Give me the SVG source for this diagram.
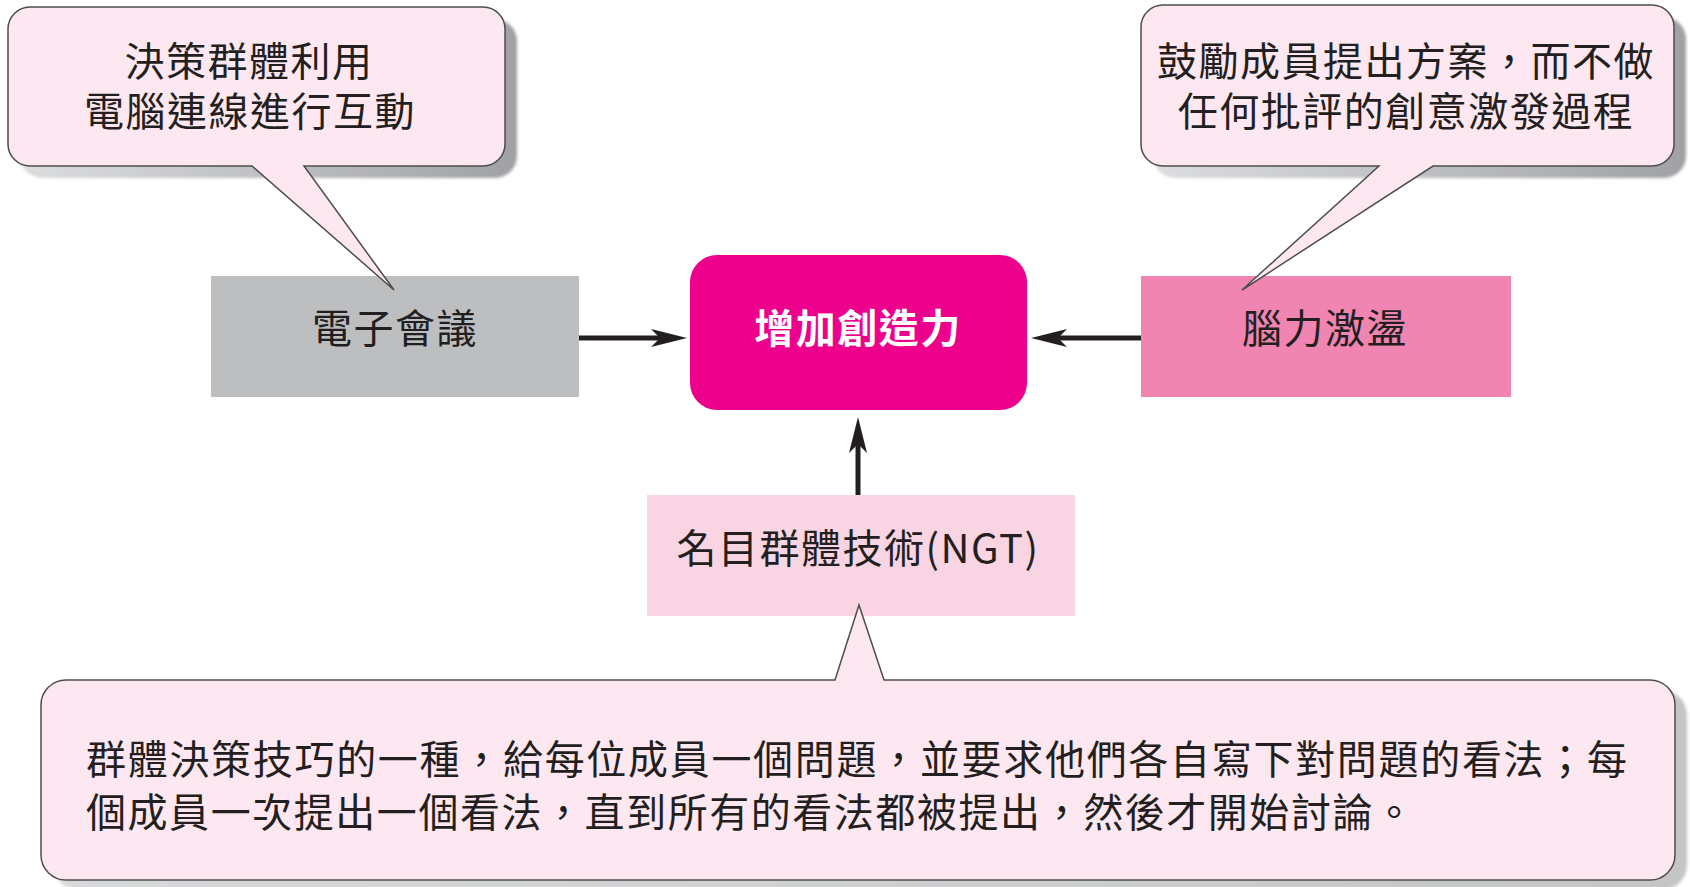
<svg xmlns="http://www.w3.org/2000/svg" width="1690" height="887" viewBox="0 0 1690 887">
<style>
  .txt { font-family: "Noto Sans CJK TC", "Noto Sans CJK SC", sans-serif; fill: #231f20; font-size: 40px; letter-spacing: 1.5px; }
  .title { font-family: "Noto Sans CJK TC", "Noto Sans CJK SC", sans-serif; fill: #ffffff; font-size: 40px; font-weight: bold; letter-spacing: 1.5px; }
  .body { letter-spacing: 0px; }
  .bubble { fill: #fde7f0; stroke: #4d4d4d; stroke-width: 1.5; stroke-linejoin: miter; }
  .shadow { filter: url(#blur); }
  .conn { stroke: #231f20; stroke-width: 5; fill: none; marker-end: url(#arrow); }
</style>
<defs>
  <filter id="blur" x="-5%" y="-10%" width="110%" height="120%">
    <feGaussianBlur stdDeviation="1.5"/>
  </filter>
  <linearGradient id="shadeTop" x1="0" y1="0" x2="1" y2="0">
    <stop offset="0" stop-color="#dcdddf"/>
    <stop offset="1" stop-color="#9fa1a4"/>
  </linearGradient>
  <linearGradient id="shadeBottom" x1="0" y1="0" x2="1" y2="0">
    <stop offset="0" stop-color="#d8d9db"/>
    <stop offset="1" stop-color="#c4c5c7"/>
  </linearGradient>
  <marker id="arrow" viewBox="0 0 36 20" markerWidth="36" markerHeight="20" refX="9" refY="10" orient="auto" markerUnits="userSpaceOnUse">
    <path d="M0,1 L36,10 L0,19 L9,10 Z" fill="#231f20"/>
  </marker>
</defs>
<rect width="1690" height="887" fill="#ffffff"/>

<g id="node-econf">
  <rect x="211" y="276" width="368" height="121" fill="#bcbec0"/>
  <text class="txt" x="395" y="343" text-anchor="middle">電子會議</text>
</g>
<g id="node-center">
  <rect x="690" y="255" width="337" height="155" rx="27" ry="27" fill="#ec008c"/>
  <text class="title" x="858" y="343" text-anchor="middle">增加創造力</text>
</g>
<g id="node-brainstorm">
  <rect x="1141" y="276" width="370" height="121" fill="#f085b2"/>
  <text class="txt" x="1325" y="343" text-anchor="middle">腦力激盪</text>
</g>
<g id="node-ngt">
  <rect x="647" y="495" width="428" height="121" fill="#f9d4e3"/>
  <text class="txt" x="858" y="563" text-anchor="middle">名目群體技術(NGT)</text>
</g>

<g id="connectors">
  <line class="conn" x1="579" y1="338" x2="660" y2="338"/>
  <line class="conn" x1="1141" y1="338" x2="1058" y2="338"/>
  <line class="conn" x1="858" y1="495" x2="858" y2="444"/>
</g>

<g id="callout-econf">
  <path class="shadow" fill="url(#shadeTop)" transform="translate(12,12)" d="M30,7 H483 A22,22 0 0 1 505,29 V144 A22,22 0 0 1 483,166 H30 A22,22 0 0 1 8,144 V29 A22,22 0 0 1 30,7 Z"/>
  <path class="bubble" d="M30,7 H483 A22,22 0 0 1 505,29 V144 A22,22 0 0 1 483,166 H304 L394,290 L252,166 H30 A22,22 0 0 1 8,144 V29 A22,22 0 0 1 30,7 Z"/>
  <text class="txt" x="249" y="76" text-anchor="middle">決策群體利用</text>
  <text class="txt" x="250" y="126" text-anchor="middle">電腦連線進行互動</text>
</g>

<g id="callout-brainstorm">
  <path class="shadow" fill="url(#shadeTop)" transform="translate(12,12)" d="M1163,5 H1652 A22,22 0 0 1 1674,27 V144 A22,22 0 0 1 1652,166 H1163 A22,22 0 0 1 1141,144 V27 A22,22 0 0 1 1163,5 Z"/>
  <path class="bubble" d="M1163,5 H1652 A22,22 0 0 1 1674,27 V144 A22,22 0 0 1 1652,166 H1433 L1242,290 L1379,166 H1163 A22,22 0 0 1 1141,144 V27 A22,22 0 0 1 1163,5 Z"/>
  <text class="txt" x="1406" y="76" text-anchor="middle">鼓勵成員提出方案，而不做</text>
  <text class="txt" x="1406" y="126" text-anchor="middle">任何批評的創意激發過程</text>
</g>

<g id="callout-ngt">
  <path class="shadow" fill="url(#shadeBottom)" transform="translate(12,10)" d="M66,680 H1650 A25,25 0 0 1 1675,705 V855 A25,25 0 0 1 1650,880 H66 A25,25 0 0 1 41,855 V705 A25,25 0 0 1 66,680 Z"/>
  <path class="bubble" d="M66,680 H835 L859,605 L884,680 H1650 A25,25 0 0 1 1675,705 V855 A25,25 0 0 1 1650,880 H66 A25,25 0 0 1 41,855 V705 A25,25 0 0 1 66,680 Z"/>
  <text class="txt body" x="86" y="774" textLength="1541" lengthAdjust="spacing">群體決策技巧的一種，給每位成員一個問題，並要求他們各自寫下對問題的看法；每</text>
  <text class="txt body" x="86" y="827" textLength="1328" lengthAdjust="spacing">個成員一次提出一個看法，直到所有的看法都被提出，然後才開始討論。</text>
</g>
</svg>
